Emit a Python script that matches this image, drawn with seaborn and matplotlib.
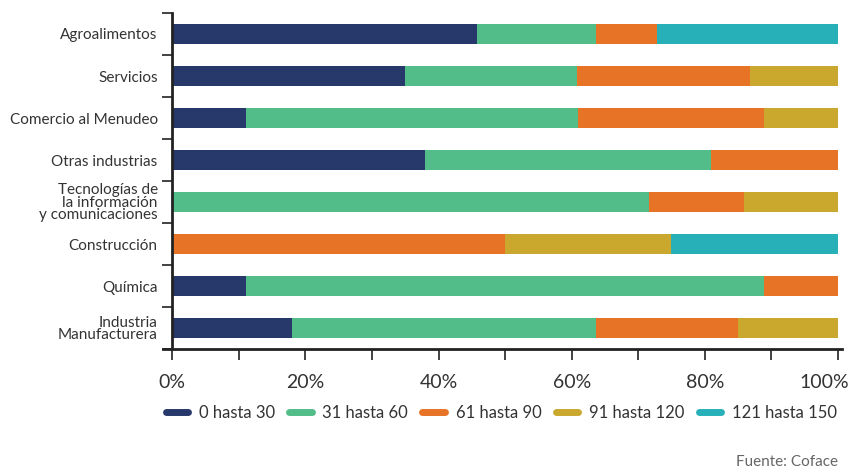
import numpy as np
import pandas as pd
import matplotlib
matplotlib.use("Agg")
import matplotlib.pyplot as plt
import matplotlib.transforms as mtransforms
import seaborn as sns
from matplotlib.lines import Line2D
from matplotlib.ticker import MultipleLocator, FixedLocator

categories = ["Agroalimentos", "Servicios", "Comercio al Menudeo", "Otras industrias",
              "Tecnologías de\nla información\ny comunicaciones", "Construcción", "Química",
              "Industria\nManufacturera"]
series_names = ["0 hasta 30", "31 hasta 60", "61 hasta 90", "91 hasta 120", "121 hasta 150"]
v_0_30 = [45.8, 35.0, 11.1, 38.0, 0.0, 0.0, 11.1, 18.0]
v_31_60 = [17.8, 25.8, 49.8, 42.9, 71.6, 0.0, 77.8, 45.6]
v_61_90 = [9.2, 26.0, 28.0, 19.1, 14.3, 50.0, 11.1, 21.4]
v_91_120 = [0.0, 13.2, 11.1, 0.0, 14.1, 24.9, 0.0, 15.0]
v_121_150 = [27.2, 0.0, 0.0, 0.0, 0.0, 25.1, 0.0, 0.0]
tick_values = [0, 20, 40, 60, 80, 100]
tick_labels = ["0%", "20%", "40%", "60%", "80%", "100%"]
source = "Fuente: Coface"

colors = ["#27386A", "#52BD89", "#E67326", "#C9A82D", "#27B0B8"]

sns.set_theme(style="white")
plt.rcParams["font.family"] = ["Lato", "DejaVu Sans"]

fig = plt.figure(figsize=(8.48, 4.73), dpi=100)
ax = fig.add_axes([163 / 848, 1 - 349 / 473, 679 / 848, 336 / 473])

series = [v_0_30, v_31_60, v_61_90, v_91_120, v_121_150]
cum = np.cumsum(np.array(series), axis=0)
df = pd.DataFrame({"cat": categories})
for i in range(len(series) - 1, -1, -1):
    df["val"] = cum[i]
    sns.barplot(data=df, x="val", y="cat", orient="h", color=colors[i], width=0.48,
                saturation=1, ax=ax, linewidth=0)

ax.set_xlim(-1.4, 100.6)
ax.set_ylim(7.5, -0.5)
ax.set_xlabel("")
ax.set_ylabel("")

for s in ["top", "right"]:
    ax.spines[s].set_visible(False)
ax.spines["left"].set_position(("data", 0))
for s in ["left", "bottom"]:
    ax.spines[s].set_color("#222222")
    ax.spines[s].set_linewidth(2)

ax.set_xticks(tick_values)
ax.set_xticklabels(tick_labels, fontsize=14, color="#333333")
ax.xaxis.set_minor_locator(MultipleLocator(10))
ax.tick_params(axis="x", which="both", direction="out", length=8, width=1.2,
               color="#222222", bottom=True, pad=10)
# shift the last label so it stays inside the figure
last = ax.get_xticklabels()[-1]
last.set_transform(last.get_transform() +
                   mtransforms.ScaledTranslation(-14 / 100, 0, fig.dpi_scale_trans))

ax.set_yticks(range(len(categories)))
ax.set_yticklabels(categories, fontsize=11, color="#333333", linespacing=0.85)
ax.yaxis.set_minor_locator(FixedLocator(np.arange(-0.5, len(categories), 1)))
ax.tick_params(axis="y", which="major", length=0, pad=10.5)
ax.tick_params(axis="y", which="minor", direction="out", length=7, width=1.2,
               color="#222222", left=True)

handles = [Line2D([0], [0], color=c, lw=5, solid_capstyle="round") for c in colors]
fig.legend(handles, series_names, loc="center", bbox_to_anchor=(0.591, 0.127), ncol=5,
           frameon=False, fontsize=12, handlelength=1.35, handletextpad=0.65,
           columnspacing=0.85, labelcolor="#333333")

fig.text(838 / 848, 1 - 462 / 473, source, ha="right", va="center", fontsize=11,
         color="#666666")

fig.savefig("out.png", dpi=100)
